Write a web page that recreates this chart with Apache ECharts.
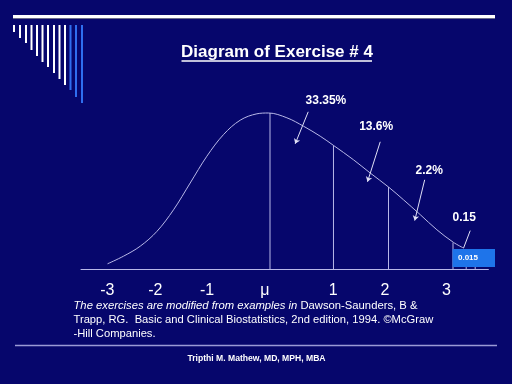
<!DOCTYPE html>
<html>
<head>
<meta charset="utf-8">
<script src="https://cdn.jsdelivr.net/npm/echarts@6/dist/echarts.min.js"></script>
<style>
html,body{margin:0;padding:0;background:#06066c;}
#chart{width:512px;height:384px;}
</style>
</head>
<body>
<div id="chart"></div>
<script>
// Curve (x in sigma-like units, y relative density)
var curveX = [-2.678, -2.412, -2.133, -1.855, -1.578, -1.3, -1.022, -0.745, -0.467, -0.188, 0.005, 0.312, 0.588, 0.867, 1.088, 1.422, 1.7, 2.005, 2.255, 2.533, 2.812, 3.088, 3.255];
var curveY = [0.013, 0.032, 0.057, 0.094, 0.148, 0.215, 0.282, 0.336, 0.372, 0.388, 0.39, 0.378, 0.357, 0.332, 0.309, 0.273, 0.24, 0.205, 0.173, 0.136, 0.098, 0.0665, 0.0525];
// Vertical divider lines
var dividerX = [0.03, 1.088, 2.005, 3.08, 3.3, 3.45];
var dividerTop = [0.39, 0.309, 0.205, 0.066, 0.045, 0.045];
// Tick labels under the baseline
var tickLabels = ['-3', '-2', '-1', 'μ', '1', '2', '3'];
var tickPos = [-2.68, -1.88, -1.02, -0.055, 1.083, 1.945, 2.972];
// Annotations: text, label position, arrow start, arrow end
var annText = ['33.35%', '13.6%', '2.2%', '0.15'];
var annLabelX = [0.962, 1.8, 2.683, 3.267];
var annLabelY = [0.42, 0.357, 0.246, 0.129];
var arrowFromX = [0.667, 1.867, 2.608, 3.367];
var arrowFromY = [0.393, 0.318, 0.223, 0.096];
var arrowToX = [0.45, 1.655, 2.442, 3.255];
var arrowToY = [0.313, 0.218, 0.121, 0.052];
var boxText = '0.015';

var chart = echarts.init(document.getElementById('chart'), null, {renderer: 'canvas'});
var FONT = 'Liberation Sans, Arial, sans-serif';
var lineCol = '#b8b8e8';

var series = [];
series.push({
  type: 'line', data: curveX.map(function (x, i) { return [x, curveY[i]]; }),
  smooth: 0.35, symbol: 'none', lineStyle: {color: lineCol, width: 1}, z: 3, silent: true
});
dividerX.forEach(function (x, i) {
  series.push({
    type: 'line', data: [[x, 0], [x, dividerTop[i]]], symbol: 'none',
    lineStyle: {color: lineCol, width: 1}, z: 3, silent: true
  });
});
series.push({
  type: 'lines', coordinateSystem: 'cartesian2d', silent: true, z: 4,
  symbol: ['none', 'arrow'], symbolSize: 5,
  lineStyle: {color: '#e0e0f6', width: 1, opacity: 1},
  data: annText.map(function (t, i) {
    return {coords: [[arrowFromX[i], arrowFromY[i]], [arrowToX[i], arrowToY[i]]],
      symbol: i === 3 ? ['none', 'none'] : ['none', 'arrow']};
  })
});
series.push({
  type: 'scatter', symbolSize: 0, silent: true, z: 5,
  itemStyle: {color: '#ffffff', opacity: 1},
  data: annText.map(function (t, i) { return {value: [annLabelX[i], annLabelY[i]], name: t}; }),
  label: {show: true, position: 'inside', formatter: '{b}', color: '#ffffff', opacity: 1,
    textBorderWidth: 0, textBorderColor: 'transparent',
    fontFamily: FONT, fontWeight: 'bold', fontSize: 12}
});

chart.setOption({
  backgroundColor: '#06066c',
  animation: false,
  grid: {left: 81, right: 23.6, top: 69, bottom: 115, containLabel: false},
  xAxis: {
    type: 'value', min: -3.12, max: 3.67,
    splitLine: {show: false},
    axisLine: {show: true, lineStyle: {color: lineCol, width: 1}},
    axisTick: {show: false},
    axisLabel: {
      show: true, customValues: tickPos, margin: 14,
      color: '#ffffff', fontFamily: FONT, fontSize: 16,
      formatter: function (v) {
        var best = 0, d = 1e9;
        tickPos.forEach(function (p, i) { if (Math.abs(p - v) < d) { d = Math.abs(p - v); best = i; } });
        return tickLabels[best];
      }
    }
  },
  yAxis: {type: 'value', min: 0, max: 0.5, show: false},
  series: series,
  graphic: [
    // top decoration
    {type: 'rect', shape: {x: 13, y: 15, width: 482, height: 3}, style: {fill: '#ffffff'}, z: 10},
    {type: 'line', shape: {x1: 13, y1: 18.5, x2: 495, y2: 18.5}, style: {stroke: '#6a6a8a', lineWidth: 1}, z: 10},
    {type: 'group', z: 10, children: [
      [14, 32], [20, 38], [26, 43], [31.5, 50], [37, 56], [42.5, 62], [48, 67], [54, 73], [59.5, 79], [65, 85], [70.5, 90], [76, 97], [82, 103]
    ].map(function (b, i) {
      return {type: 'rect', shape: {x: b[0] - 1, y: 25, width: 2, height: b[1] - 25},
        style: {fill: i >= 10 ? '#2f6ef0' : '#ffffff'}};
    })},
    // title
    {type: 'text', x: 277, y: 52, z: 10,
      style: {text: 'Diagram of Exercise # 4', fill: '#ffffff', font: 'bold 17px ' + FONT,
        align: 'center', verticalAlign: 'middle'}},
    {type: 'line', shape: {x1: 181.5, y1: 61, x2: 372, y2: 61}, style: {stroke: '#ffffff', lineWidth: 1.3}, z: 10},
    // 0.015 box
    {type: 'rect', shape: {x: 452.5, y: 249, width: 42.5, height: 18}, style: {fill: '#1e74ea'}, z: 20},
    {type: 'text', x: 458, y: 257.5, z: 21,
      style: {text: boxText, fill: '#ffffff', font: 'bold 8px ' + FONT, verticalAlign: 'middle'}},
    // citation
    {type: 'text', x: 73.5, y: 306, z: 10,
      style: {text: '{i|The exercises are modified from examples in }{n|Dawson-Saunders, B &}',
        verticalAlign: 'middle', fill: '#ffffff',
        rich: {i: {fontStyle: 'italic', fontSize: 11.25, fontFamily: FONT, fill: '#ffffff'},
               n: {fontSize: 11.25, fontFamily: FONT, fill: '#ffffff'}}}},
    {type: 'text', x: 73.5, y: 320, z: 10,
      style: {text: 'Trapp, RG.  Basic and Clinical Biostatistics, 2nd edition, 1994. ©McGraw',
        fill: '#ffffff', font: '11.2px ' + FONT, verticalAlign: 'middle'}},
    {type: 'text', x: 73.5, y: 333.5, z: 10,
      style: {text: '-Hill Companies.', fill: '#ffffff', font: '11.2px ' + FONT, verticalAlign: 'middle'}},
    // bottom rule and footer
    {type: 'line', shape: {x1: 15, y1: 345.5, x2: 497, y2: 345.5}, style: {stroke: '#9a9ad6', lineWidth: 1.5}, z: 10},
    {type: 'text', x: 256.5, y: 359, z: 10,
      style: {text: 'Tripthi M. Mathew, MD, MPH, MBA', fill: '#ffffff', font: 'bold 8.6px ' + FONT,
        align: 'center', verticalAlign: 'middle'}}
  ]
});
</script>
</body>
</html>
